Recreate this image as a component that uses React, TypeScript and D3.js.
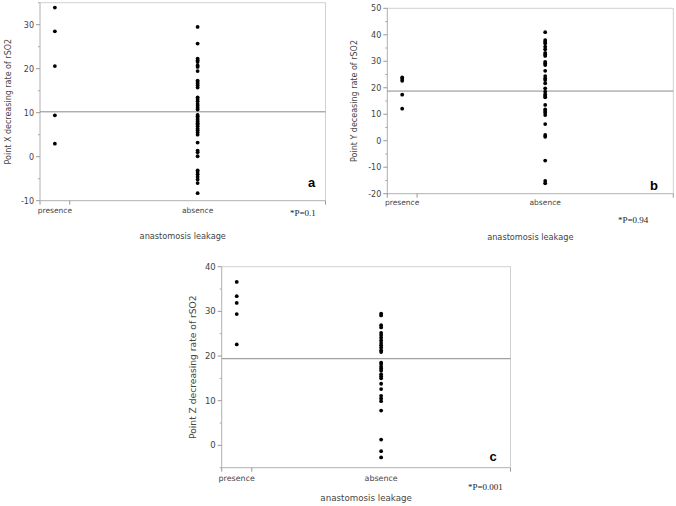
import React from "react";
import * as d3 from "d3";

// ---------- data ----------
const categories = ["presence", "absence"];
const groupSizes = [5, 43];

const presenceX = [33.9, 28.5, 20.6, 9.4, 2.95];
const absenceX = [
  29.5, 25.7, 22.3, 21.9, 21.5, 20.75, 20.4, 19.45, 17.3, 17.0, 16.6, 16.2, 15.7,
  13.5, 13.1, 12.6, 12.0, 11.6, 11.1, 10.7, 9.5, 9.2, 8.8, 8.4, 8.0, 7.6, 7.3, 6.9,
  6.4, 6.0, 5.5, 5.0, 3.2, 1.4, 1.0, 0.1, -3.1, -3.5, -4.0, -4.6, -5.2, -6.0, -8.3,
];
const meanX = 10.2;

const presenceY = [23.9, 23.3, 22.6, 17.4, 12.1];
const absenceY = [
  41.0, 38.0, 37.4, 36.8, 35.5, 34.5, 33.2, 32.6, 32.0, 29.8, 29.2, 28.6, 26.4,
  24.4, 23.5, 22.9, 21.7, 19.8, 18.5, 17.5, 16.9, 16.4, 13.5, 11.8, 11.2, 10.6,
  9.7, 6.3, 2.2, 1.5, -7.5, -15.2, -16.1,
];
const meanY = 18.75;

const presenceZ = [36.6, 33.4, 31.9, 29.4, 22.6];
const absenceZ = [
  29.5, 29.1, 26.9, 26.4, 25.2, 24.7, 24.1, 23.5, 22.9, 22.4, 21.9, 21.3, 20.9,
  18.5, 18.2, 17.6, 17.2, 16.7, 15.9, 15.5, 15.0, 13.8, 12.6, 11.1, 10.5, 9.9, 7.8,
  1.3, -1.3, -2.7,
];
const meanZ = 19.4;

const ticksX = [-10, 0, 10, 20, 30];
const ticksY = [-20, -10, 0, 10, 20, 30, 40, 50];
const ticksZ = [0, 10, 20, 30, 40];

const xTitle = "anastomosis leakage";

type PanelProps = {
  left: number;
  top: number;
  right: number;
  bottom: number;
  domain: [number, number];
  ticks: number[];
  presence: number[];
  absence: number[];
  mean: number;
  yTitle: string;
  yTitleX: number;
  catY: number;
  xTitleY: number;
  letter: string;
  letterX: number;
  letterY: number;
  pText: string;
  pX: number;
  pY: number;
  fs?: number;
};

const SANS = "'DejaVu Sans', Verdana, sans-serif";
const SERIF = "'Liberation Serif', 'Times New Roman', serif";

function Panel(p: PanelProps) {
  const k = p.fs ?? 1;
  const y = d3.scaleLinear().domain(p.domain).range([p.bottom, p.top]);
  const total = d3.sum(groupSizes);
  const x = d3.scaleLinear().domain([0, total]).range([p.left, p.right]);
  const bounds = [0, groupSizes[0], total];
  const centers = [x(groupSizes[0] / 2), x(groupSizes[0] + groupSizes[1] / 2)];
  const minor: number[] = [];
  for (let v = Math.ceil(p.domain[0] / 5) * 5; v <= p.domain[1]; v += 5) {
    if (!p.ticks.includes(v)) minor.push(v);
  }
  const groups = [p.presence, p.absence];
  const midY = (p.top + p.bottom) / 2;
  return (
    <g>
      {/* frame */}
      <line x1={p.left} x2={p.right} y1={p.top} y2={p.top} stroke="#d0d0d0" strokeWidth={1} />
      <line x1={p.right} x2={p.right} y1={p.top} y2={p.bottom} stroke="#d0d0d0" strokeWidth={1} />
      <line x1={p.left} x2={p.left} y1={p.top} y2={p.bottom} stroke="#b0b0b0" strokeWidth={1} />
      <line x1={p.left} x2={p.right} y1={p.bottom} y2={p.bottom} stroke="#b0b0b0" strokeWidth={1} />
      {/* y ticks */}
      {p.ticks.map((t) => (
        <g key={"t" + t}>
          <line x1={p.left - 4} x2={p.left} y1={y(t)} y2={y(t)} stroke="#999" />
          <text
            x={p.left - 6}
            y={y(t)}
            dy="0.35em"
            textAnchor="end"
            fontFamily={SANS}
            fontSize={8 * k}
            fill="#444"
          >
            {t}
          </text>
        </g>
      ))}
      {minor.map((t) => (
        <line key={"m" + t} x1={p.left - 2} x2={p.left} y1={y(t)} y2={y(t)} stroke="#aaa" />
      ))}
      {/* x ticks */}
      {bounds.map((b, i) => (
        <line key={"b" + i} x1={x(b)} x2={x(b)} y1={p.bottom} y2={p.bottom + 4} stroke="#999" />
      ))}
      {categories.map((c, i) => (
        <text
          key={c}
          x={centers[i]}
          y={p.catY}
          textAnchor="middle"
          fontFamily={SANS}
          fontSize={7.5 * k}
          fill="#444"
        >
          {c}
        </text>
      ))}
      {/* mean line */}
      <line x1={p.left} x2={p.right} y1={y(p.mean)} y2={y(p.mean)} stroke="#8a8a8a" strokeWidth={1} />
      {/* points */}
      {groups.map((g, gi) =>
        g.map((v, i) => (
          <circle key={gi + "-" + i} cx={centers[gi]} cy={y(v)} r={1.9} fill="#000" />
        ))
      )}
      {/* titles */}
      <text
        transform={`translate(${p.yTitleX},${midY}) rotate(-90)`}
        textAnchor="middle"
        dy="0.35em"
        fontFamily={SANS}
        fontSize={8 * k * (k > 1 ? 1.08 : 1)}
        fill="#444"
      >
        {p.yTitle}
      </text>
      <text
        x={(p.left + p.right) / 2}
        y={p.xTitleY}
        textAnchor="middle"
        fontFamily={SANS}
        fontSize={8.2 * k}
        fill="#444"
      >
        {xTitle}
      </text>
      <text
        x={p.letterX}
        y={p.letterY}
        textAnchor="middle"
        fontFamily="'Liberation Sans', Arial, sans-serif"
        fontWeight="bold"
        fontSize={13}
        fill="#000"
      >
        {p.letter}
      </text>
      <text x={p.pX} y={p.pY} fontFamily={SERIF} fontSize={9} fill="#222">
        {p.pText}
      </text>
    </g>
  );
}

export default function App() {
  return (
    <div style={{ position: "absolute", left: 0, top: 0 }}>
      <svg width={676} height={506} style={{ display: "block", background: "#fff" }}>
        <Panel
          left={40}
          top={2.7}
          right={325.5}
          bottom={200.7}
          domain={[-10, 35]}
          ticks={ticksX}
          presence={presenceX}
          absence={absenceX}
          mean={meanX}
          yTitle="Point X decreasing rate of rSO2"
          yTitleX={8}
          catY={213}
          xTitleY={239}
          letter="a"
          letterX={311.5}
          letterY={187}
          pText="*P=0.1"
          pX={290}
          pY={216}
        />
        <Panel
          left={387.3}
          top={8.3}
          right={673.3}
          bottom={193.7}
          domain={[-20, 50]}
          ticks={ticksY}
          presence={presenceY}
          absence={absenceY}
          mean={meanY}
          yTitle="Point Y deceasing rate of rSO2"
          yTitleX={354}
          catY={205}
          xTitleY={240}
          letter="b"
          letterX={654}
          letterY={190}
          pText="*P=0.94"
          pX={618}
          pY={223}
        />
        <Panel
          left={221.7}
          top={266.7}
          right={510.5}
          bottom={467.7}
          domain={[-5, 40]}
          ticks={ticksZ}
          presence={presenceZ}
          absence={absenceZ}
          mean={meanZ}
          yTitle="Point Z decreasing rate of rSO2"
          yTitleX={193}
          catY={480.5}
          xTitleY={501}
          letter="c"
          letterX={493}
          letterY={461}
          pText="*P=0.001"
          pX={468}
          pY={490}
          fs={1.06}
        />
      </svg>
    </div>
  );
}
